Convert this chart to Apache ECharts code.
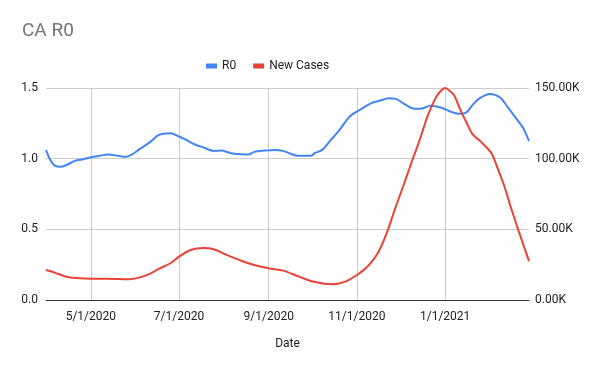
<!DOCTYPE html>
<html>
<head>
<meta charset="utf-8">
<script src="https://cdn.jsdelivr.net/npm/echarts@6/dist/echarts.min.js"></script>
<style>html,body{margin:0;padding:0;background:#fff}#c{width:600px;height:371px}</style>
</head>
<body>
<div id="c"></div>
<script>
const titleText = 'CA R0';
const seriesNames = ['R0', 'New Cases'];
const xAxisName = 'Date';
const xTickDates = ['2020-05-01', '2020-07-01', '2020-09-01', '2020-11-01', '2021-01-01'];
const xMin = '2020-03-31';
const xMax = '2021-02-28';

const r0Dates = ['2020-03-31','2020-04-03','2020-04-06','2020-04-10','2020-04-14','2020-04-20','2020-04-26','2020-05-01','2020-05-07','2020-05-13','2020-05-20','2020-05-25','2020-05-29','2020-06-04','2020-06-11','2020-06-17','2020-06-25','2020-07-01','2020-07-05','2020-07-12','2020-07-18','2020-07-25','2020-07-30','2020-08-06','2020-08-13','2020-08-18','2020-08-22','2020-08-29','2020-09-05','2020-09-11','2020-09-15','2020-09-21','2020-09-30','2020-10-03','2020-10-08','2020-10-13','2020-10-20','2020-10-26','2020-10-30','2020-11-05','2020-11-11','2020-11-17','2020-11-23','2020-11-28','2020-12-04','2020-12-09','2020-12-15','2020-12-22','2020-12-29','2021-01-04','2021-01-11','2021-01-16','2021-01-20','2021-01-25','2021-02-01','2021-02-08','2021-02-13','2021-02-19','2021-02-24','2021-02-28'];
const r0Values = [1.06,0.99,0.951,0.942,0.954,0.984,0.996,1.01,1.02,1.029,1.02,1.013,1.027,1.069,1.117,1.168,1.18,1.157,1.138,1.10,1.079,1.055,1.057,1.039,1.032,1.029,1.048,1.057,1.062,1.055,1.039,1.02,1.02,1.04,1.062,1.121,1.204,1.287,1.322,1.357,1.393,1.411,1.428,1.423,1.386,1.357,1.353,1.374,1.362,1.336,1.317,1.329,1.381,1.428,1.457,1.433,1.369,1.287,1.216,1.125];

const caseDates = ['2020-03-31','2020-04-06','2020-04-14','2020-04-21','2020-05-01','2020-05-12','2020-05-21','2020-05-28','2020-06-04','2020-06-11','2020-06-17','2020-06-25','2020-07-01','2020-07-09','2020-07-18','2020-07-25','2020-08-03','2020-08-13','2020-08-22','2020-09-01','2020-09-11','2020-09-22','2020-10-03','2020-10-15','2020-10-24','2020-11-01','2020-11-06','2020-11-10','2020-11-16','2020-11-22','2020-11-27','2020-12-03','2020-12-09','2020-12-15','2020-12-20','2020-12-26','2020-12-30','2021-01-01','2021-01-03','2021-01-07','2021-01-11','2021-01-16','2021-01-20','2021-01-26','2021-02-02','2021-02-06','2021-02-11','2021-02-15','2021-02-21','2021-02-28'];
const caseValues = [21200,19400,16500,15600,15100,15100,14900,14600,16000,18600,22000,26000,30700,35400,36800,35900,31900,27800,24800,22400,20800,16500,12700,11100,13000,17700,21500,25500,34200,48400,63500,80500,98000,115000,130500,144000,149000,150000,149000,145200,135800,125100,117300,111700,103900,94000,80500,67000,48400,27500];

function ts(s){ const p = s.split('-').map(Number); return new Date(p[0], p[1]-1, p[2]).getTime(); }
const tickTs = xTickDates.map(ts);
function fmtDate(v){ const d = new Date(v); return (d.getMonth()+1) + '/' + d.getDate() + '/' + d.getFullYear(); }

const chart = echarts.init(document.getElementById('c'), null, {renderer: 'canvas'});
chart.setOption({
  animation: false,
  backgroundColor: '#ffffff',
  title: {
    text: titleText, left: 17, top: 17,
    textStyle: {color: '#757575', fontSize: 19, fontWeight: 'normal', fontFamily: 'Roboto, Arial, sans-serif'}
  },
  legend: {
    top: 55, left: 201, itemGap: 17, itemWidth: 11, itemHeight: 5, icon: 'rect',
    textStyle: {color: '#222', fontSize: 12, fontFamily: 'Roboto, Arial, sans-serif'},
    data: seriesNames
  },
  grid: {left: 46, right: 71, top: 88, bottom: 71, containLabel: false},
  xAxis: {
    type: 'value', min: ts(xMin), max: ts(xMax),
    name: xAxisName, nameLocation: 'middle', nameGap: 38,
    nameTextStyle: {color: '#222', fontSize: 12, fontFamily: 'Roboto, Arial, sans-serif'},
    axisLine: {show: true, lineStyle: {color: '#333', width: 1}},
    axisTick: {show: false, customValues: tickTs},
    axisLabel: {customValues: tickTs, formatter: fmtDate, color: '#222', fontSize: 12, margin: 11, fontFamily: 'Roboto, Arial, sans-serif'},
    splitLine: {show: true, customValues: tickTs, lineStyle: {color: '#cccccc', width: 1}}
  },
  yAxis: [
    {
      type: 'value', min: 0, max: 1.5, interval: 0.5,
      axisLine: {show: false}, axisTick: {show: false},
      axisLabel: {formatter: v => v.toFixed(1), color: '#222', fontSize: 12, margin: 8, fontFamily: 'Roboto, Arial, sans-serif'},
      splitLine: {show: true, lineStyle: {color: '#cccccc', width: 1}}
    },
    {
      type: 'value', min: 0, max: 150000, interval: 50000,
      axisLine: {show: false}, axisTick: {show: false},
      axisLabel: {formatter: v => (v/1000).toFixed(2) + 'K', color: '#222', fontSize: 12, margin: 6, fontFamily: 'Roboto, Arial, sans-serif'},
      splitLine: {show: false}
    }
  ],
  series: [
    {
      name: seriesNames[0], type: 'line', yAxisIndex: 0, smooth: 0.3, showSymbol: false, symbol: 'none',
      color: '#4285F4', lineStyle: {color: '#4285F4', width: 2},
      data: r0Dates.map((d, i) => [ts(d), r0Values[i]])
    },
    {
      name: seriesNames[1], type: 'line', yAxisIndex: 1, smooth: 0.3, showSymbol: false, symbol: 'none',
      color: '#EA4335', lineStyle: {color: '#EA4335', width: 2},
      data: caseDates.map((d, i) => [ts(d), caseValues[i]])
    }
  ]
});
</script>
</body>
</html>
